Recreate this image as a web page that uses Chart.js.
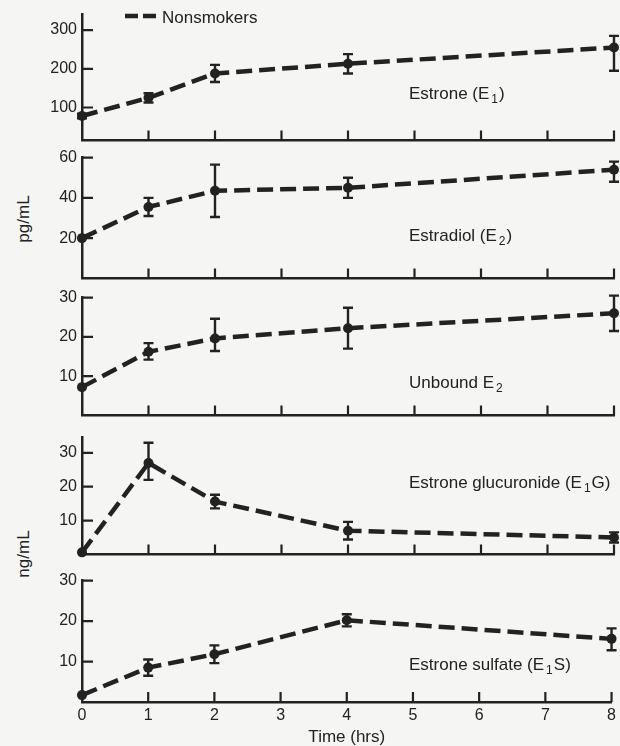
<!DOCTYPE html>
<html><head><meta charset="utf-8">
<script src="https://cdn.jsdelivr.net/npm/chart.js@4.4.1/dist/chart.umd.min.js"></script>
<style>
html,body{margin:0;padding:0;background:#f5f5f3;}
#wrap{position:relative;width:620px;height:746px;overflow:hidden;background:#f5f5f3;}
#wrap canvas{position:absolute;left:0;}
.ytitle{position:absolute;font:17px "Liberation Sans",Arial,sans-serif;color:#222;white-space:nowrap;transform:translate(-50%,-50%) rotate(-90deg);}
</style>
</head><body>
<div id="wrap">
  <div class="ytitle" style="left:24px;top:219px">pg/mL</div>
  <div class="ytitle" style="left:24px;top:554px">ng/mL</div>
</div>
<script>
// ---- data ----
const hours = [0, 1, 2, 4, 8];
const xTickValues = [0, 1, 2, 3, 4, 5, 6, 7, 8];
const legendLabel = 'Nonsmokers';
const xTitle = 'Time (hrs)';

const estrone        = [78, 125, 188, 213, 255];
const estroneErrUp   = [6, 12, 22, 25, 30];
const estroneErrDown = [6, 12, 22, 25, 60];
const estroneTicks   = [100, 200, 300];

const estradiol        = [20, 35.5, 43.5, 45, 54];
const estradiolErrUp   = [0, 4.5, 13, 5, 4];
const estradiolErrDown = [0, 4.5, 13, 5, 6];
const estradiolTicks   = [20, 40, 60];

const unboundE2        = [7.2, 16.2, 19.6, 22.2, 26];
const unboundE2ErrUp   = [0, 2.2, 5, 5.2, 4.5];
const unboundE2ErrDown = [0, 2.0, 3.2, 5.2, 4.5];
const unboundE2Ticks   = [10, 20, 30];

const glucuronide        = [0.6, 27, 15.6, 7, 5];
const glucuronideErrUp   = [0, 6, 2, 2.6, 1.5];
const glucuronideErrDown = [0, 5, 2, 2.6, 1.5];
const glucuronideTicks   = [10, 20, 30];

const sulfate        = [1.7, 8.5, 11.8, 20.2, 15.6];
const sulfateErrUp   = [0, 2, 2.2, 1.5, 2.6];
const sulfateErrDown = [0, 2, 2.2, 1.5, 2.8];
const sulfateTicks   = [10, 20, 30];

// ---- panel set-up (layout separate from data) ----
const ink = '#222222';
const FONT = '"Liberation Sans", Arial, sans-serif';
const panels = [
  {values: estrone, up: estroneErrUp, down: estroneErrDown, ticks: estroneTicks, min: 15, max: 340,
   label: [['Estrone (E'], ['1', 1], [')']], areaTop: 10, areaBottom: 143, labelBase: 99, legend: true},
  {values: estradiol, up: estradiolErrUp, down: estradiolErrDown, ticks: estradiolTicks, min: 0, max: 60,
   label: [['Estradiol (E'], ['2', 1], [')']], areaTop: 155, areaBottom: 281, labelBase: 241},
  {values: unboundE2, up: unboundE2ErrUp, down: unboundE2ErrDown, ticks: unboundE2Ticks, min: 0, max: 30,
   label: [['Unbound E'], ['2', 1]], areaTop: 295, areaBottom: 418, labelBase: 388},
  {values: glucuronide, up: glucuronideErrUp, down: glucuronideErrDown, ticks: glucuronideTicks, min: 0, max: 34.5,
   label: [['Estrone glucuronide (E'], ['1', 1], ['G)']], areaTop: 435, areaBottom: 557, labelBase: 488},
  {values: sulfate, up: sulfateErrUp, down: sulfateErrDown, ticks: sulfateTicks, min: 0, max: 30,
   label: [['Estrone sulfate (E'], ['1', 1], ['S)']], areaTop: 578, areaBottom: 702, labelBase: 670, bottomAxis: true}
];

const errorBars = {
  id: 'errorBars',
  afterDatasetsDraw(chart) {
    const ctx = chart.ctx, ds = chart.data.datasets[0], meta = chart.getDatasetMeta(0), ys = chart.scales.y;
    ctx.save();
    ctx.strokeStyle = ink; ctx.lineWidth = 2.4; ctx.lineCap = 'butt';
    meta.data.forEach((pt, i) => {
      const v = ds.data[i].y, up = ds.errUp[i], dn = ds.errDown[i];
      if (!up && !dn) return;
      const yt = ys.getPixelForValue(v + up), yb = ys.getPixelForValue(v - dn), x = pt.x;
      ctx.beginPath();
      ctx.moveTo(x, yt); ctx.lineTo(x, yb);
      ctx.moveTo(x - 5, yt); ctx.lineTo(x + 5, yt);
      ctx.moveTo(x - 5, yb); ctx.lineTo(x + 5, yb);
      ctx.stroke();
    });
    ctx.restore();
  }
};

const innerTicks = {
  id: 'innerTicks',
  afterDraw(chart) {
    const ctx = chart.ctx, xs = chart.scales.x, ys = chart.scales.y, a = chart.chartArea;
    ctx.save();
    ctx.strokeStyle = ink; ctx.lineWidth = 2.2;
    ctx.beginPath();
    xs.ticks.forEach(t => {
      if (t.value === 0) return;
      const px = xs.getPixelForValue(t.value);
      ctx.moveTo(px, a.bottom); ctx.lineTo(px, a.bottom - 10);
    });
    ys.ticks.forEach(t => {
      const py = ys.getPixelForValue(t.value);
      ctx.moveTo(a.left, py); ctx.lineTo(a.left + 11, py);
    });
    ctx.stroke();
    ctx.restore();
  }
};

const panelText = {
  id: 'panelText',
  afterDraw(chart, args, opts) {
    const ctx = chart.ctx, p = opts.panel;
    ctx.save();
    ctx.fillStyle = ink; ctx.textBaseline = 'alphabetic'; ctx.textAlign = 'left';
    let x = 409;
    const base = p.labelBase - opts.top;
    p.label.forEach(seg => {
      if (seg[1]) {
        ctx.font = '12px ' + FONT;
        x += 2;
        ctx.fillText(seg[0], x, base + 4);
        x += ctx.measureText(seg[0]).width + 1;
      } else {
        ctx.font = '17px ' + FONT;
        ctx.fillText(seg[0], x, base);
        x += ctx.measureText(seg[0]).width;
      }
    });
    if (p.legend) {
      ctx.strokeStyle = ink; ctx.lineWidth = 4.5; ctx.setLineDash([13, 5]);
      ctx.beginPath(); ctx.moveTo(125, 16 - opts.top); ctx.lineTo(157, 16 - opts.top); ctx.stroke();
      ctx.setLineDash([]);
      ctx.font = '17px ' + FONT;
      ctx.fillText(legendLabel, 162, 23 - opts.top);
    }
    ctx.restore();
  }
};

const wrap = document.getElementById('wrap');
panels.forEach((p, idx) => {
  const padTop = idx === 0 ? p.areaTop : 12;
  const top = p.areaTop - padTop;
  const xH = p.bottomAxis ? 44 : 0;
  const padBottom = p.bottomAxis ? 0 : 12;
  const height = p.areaBottom + xH + padBottom - top;
  const cv = document.createElement('canvas');
  cv.width = 620; cv.height = height;
  cv.style.top = top + 'px'; cv.style.width = '620px'; cv.style.height = height + 'px';
  wrap.appendChild(cv);
  new Chart(cv, {
    type: 'line',
    data: {
      datasets: [{
        label: legendLabel,
        data: hours.map((h, i) => ({x: h, y: p.values[i]})),
        errUp: p.up, errDown: p.down,
        borderColor: ink, borderWidth: 4.5, borderDash: [16, 7], borderCapStyle: 'butt',
        tension: 0, fill: false, clip: false,
        pointRadius: 5, pointBackgroundColor: ink, pointBorderWidth: 0, pointStyle: 'circle'
      }]
    },
    options: {
      responsive: false, animation: false, devicePixelRatio: 1,
      layout: {padding: {top: padTop, bottom: padBottom, left: 0, right: 6}},
      plugins: {legend: {display: false}, tooltip: {enabled: false},
                panelText: {panel: p, top: top}},
      scales: {
        x: {
          type: 'linear', min: 0, max: 8,
          afterBuildTicks: s => { s.ticks = xTickValues.map(v => ({value: v})); },
          afterFit: s => { s.height = xH; },
          grid: {display: true, drawOnChartArea: false, drawTicks: false},
          border: {display: true, color: ink, width: 2.5},
          ticks: {display: !!p.bottomAxis, padding: 4, color: ink, font: {family: FONT, size: 16}},
          title: {display: !!p.bottomAxis, text: xTitle, color: ink, font: {family: FONT, size: 17, lineHeight: 1},
                  padding: {top: 0, bottom: 0}}
        },
        y: {
          min: p.min, max: p.max,
          afterBuildTicks: s => { s.ticks = p.ticks.map(v => ({value: v})); },
          afterFit: s => { s.width = 82; },
          grid: {display: true, drawOnChartArea: false, drawTicks: false},
          border: {display: true, color: ink, width: 2.5},
          ticks: {padding: 5, color: ink, font: {family: FONT, size: 16}}
        }
      }
    },
    plugins: [errorBars, innerTicks, panelText]
  });
});
</script>
</body></html>
